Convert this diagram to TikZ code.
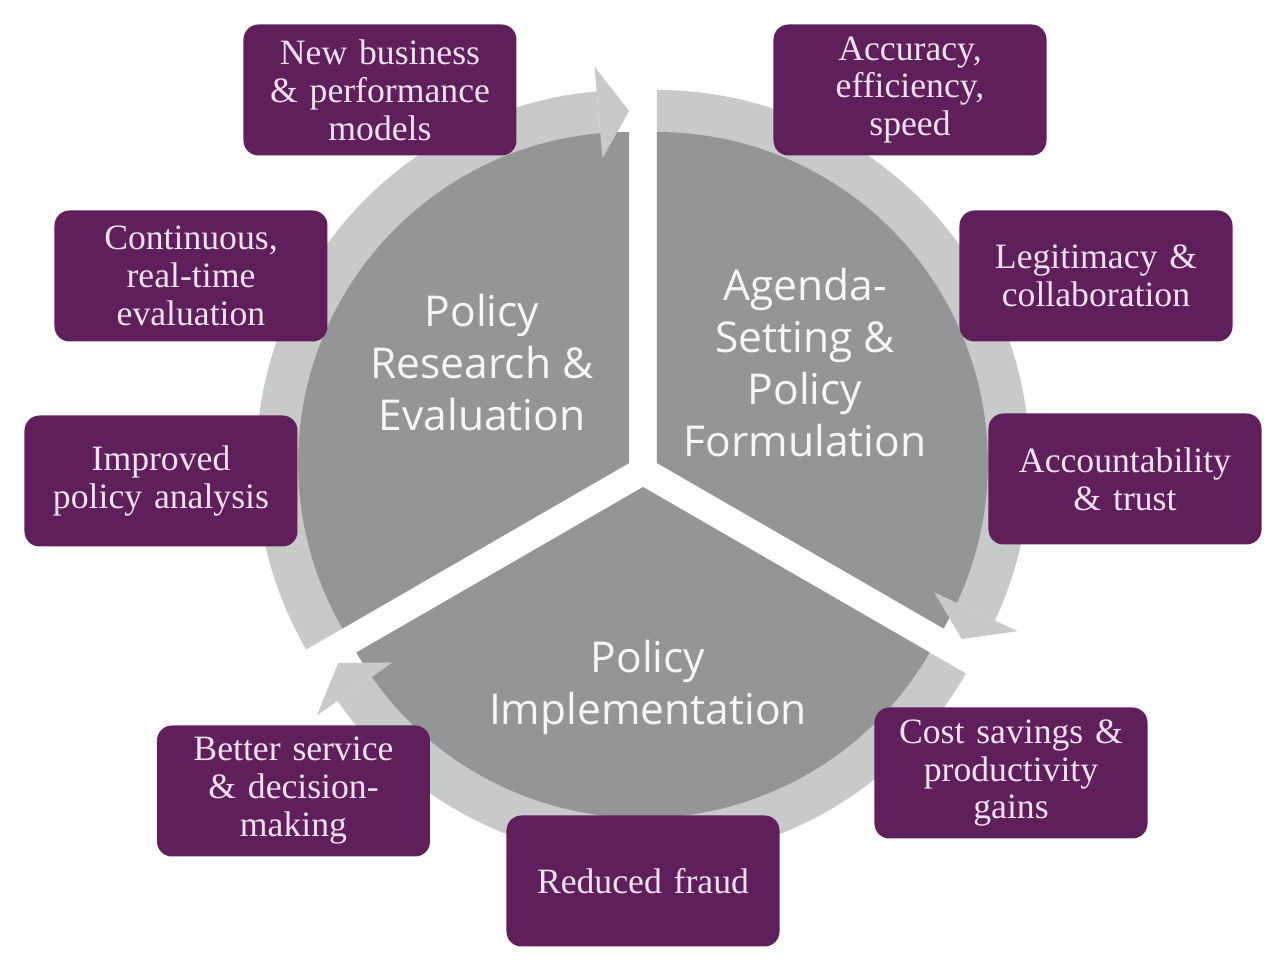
\documentclass[tikz,border=0pt]{standalone}
\usepackage{fontspec}
\setmainfont{Liberation Serif}
\newfontfamily\opensans{Open Sans}
\definecolor{piegray}{RGB}{147,149,151}
\definecolor{ringgray}{RGB}{199,202,201}
\definecolor{boxpurple}{RGB}{94,31,91}
\definecolor{boxtext}{RGB}{241,224,239}
\definecolor{pietext}{RGB}{246,246,246}
\tikzset{
  benefit/.style={fill=boxpurple, rounded corners=3mm, minimum width=54.6mm,
    minimum height=26.2mm, text width=53mm, align=center, text=boxtext,
    font=\fontsize{20.3}{21.6}\selectfont, inner sep=0pt},
  stage/.style={text=pietext, align=center, font=\opensans\fontsize{24.2}{29.6}\selectfont},
  ringband/.style={fill=ringgray},
  piepart/.style={fill=piegray},
}
\begin{document}
\begin{tikzpicture}[x=0.2mm,y=0.2mm]
\useasboundingbox (-643,471) rectangle (637,-496);
% ring bands
\begin{scope}[shift={(-13.86,8)}]
  \fill[ringband] (0,0) -- (95:373) arc[start angle=95,end angle=210,radius=373] -- cycle;
\end{scope}
\begin{scope}[shift={(13.86,8)}]
  \fill[ringband] (0,0) -- (-25:373) arc[start angle=-25,end angle=90,radius=373] -- cycle;
\end{scope}
\begin{scope}[shift={(0,-16)}]
  \fill[ringband] (0,0) -- (215:373) arc[start angle=215,end angle=330,radius=373] -- cycle;
\end{scope}
% pie sectors
\begin{scope}[shift={(-13.86,8)}]
  \fill[piepart] (0,0) -- (90:331) arc[start angle=90,end angle=210,radius=331] -- cycle;
\end{scope}
\begin{scope}[shift={(13.86,8)}]
  \fill[piepart] (0,0) -- (-30:331) arc[start angle=-30,end angle=90,radius=331] -- cycle;
\end{scope}
\begin{scope}[shift={(0,-16)}]
  \fill[piepart] (0,0) -- (210:331) arc[start angle=210,end angle=330,radius=331] -- cycle;
\end{scope}
% arrow heads
\begin{scope}[shift={(-13.86,8)}]
  \fill[ringband] (95:306) -- (90:352) -- (95:398) -- cycle;
\end{scope}
\begin{scope}[shift={(13.86,8)}]
  \fill[ringband] (-25:306) -- (-30:352) -- (-25:398) -- cycle;
\end{scope}
\begin{scope}[shift={(0,-16)}]
  \fill[ringband] (215:306) -- (210:352) -- (215:398) -- cycle;
\end{scope}
% stage labels
\node[stage] (research) at (-161,108) {Policy\\Research \&\\Evaluation};
\node[stage] (agenda) at (162,108) {Agenda-\\Setting \&\\Policy\\Formulation};
\node[stage] (implement) at (5,-216) {Policy\\Implementation};
% benefit boxes
\node[benefit] (newbiz) at (-263,381) {New business\\\& performance\\models};
\node[benefit] (accuracy) at (267,381) {Accuracy,\\efficiency,\\speed};
\node[benefit] (continuous) at (-452,195) {Continuous,\\real-time\\evaluation};
\node[benefit] (legitimacy) at (453,195) {Legitimacy \&\\collaboration};
\node[benefit] (improved) at (-482,-10) {Improved\\policy analysis};
\node[benefit] (accountability) at (482,-8) {Accountability\\\& trust};
\node[benefit] (better) at (-349.5,-320) {Better service\\\& decision-\\making};
\node[benefit] (cost) at (368,-302) {Cost savings \&\\productivity\\gains};
\node[benefit] (fraud) at (0,-410) {Reduced fraud};
\end{tikzpicture}
\end{document}
